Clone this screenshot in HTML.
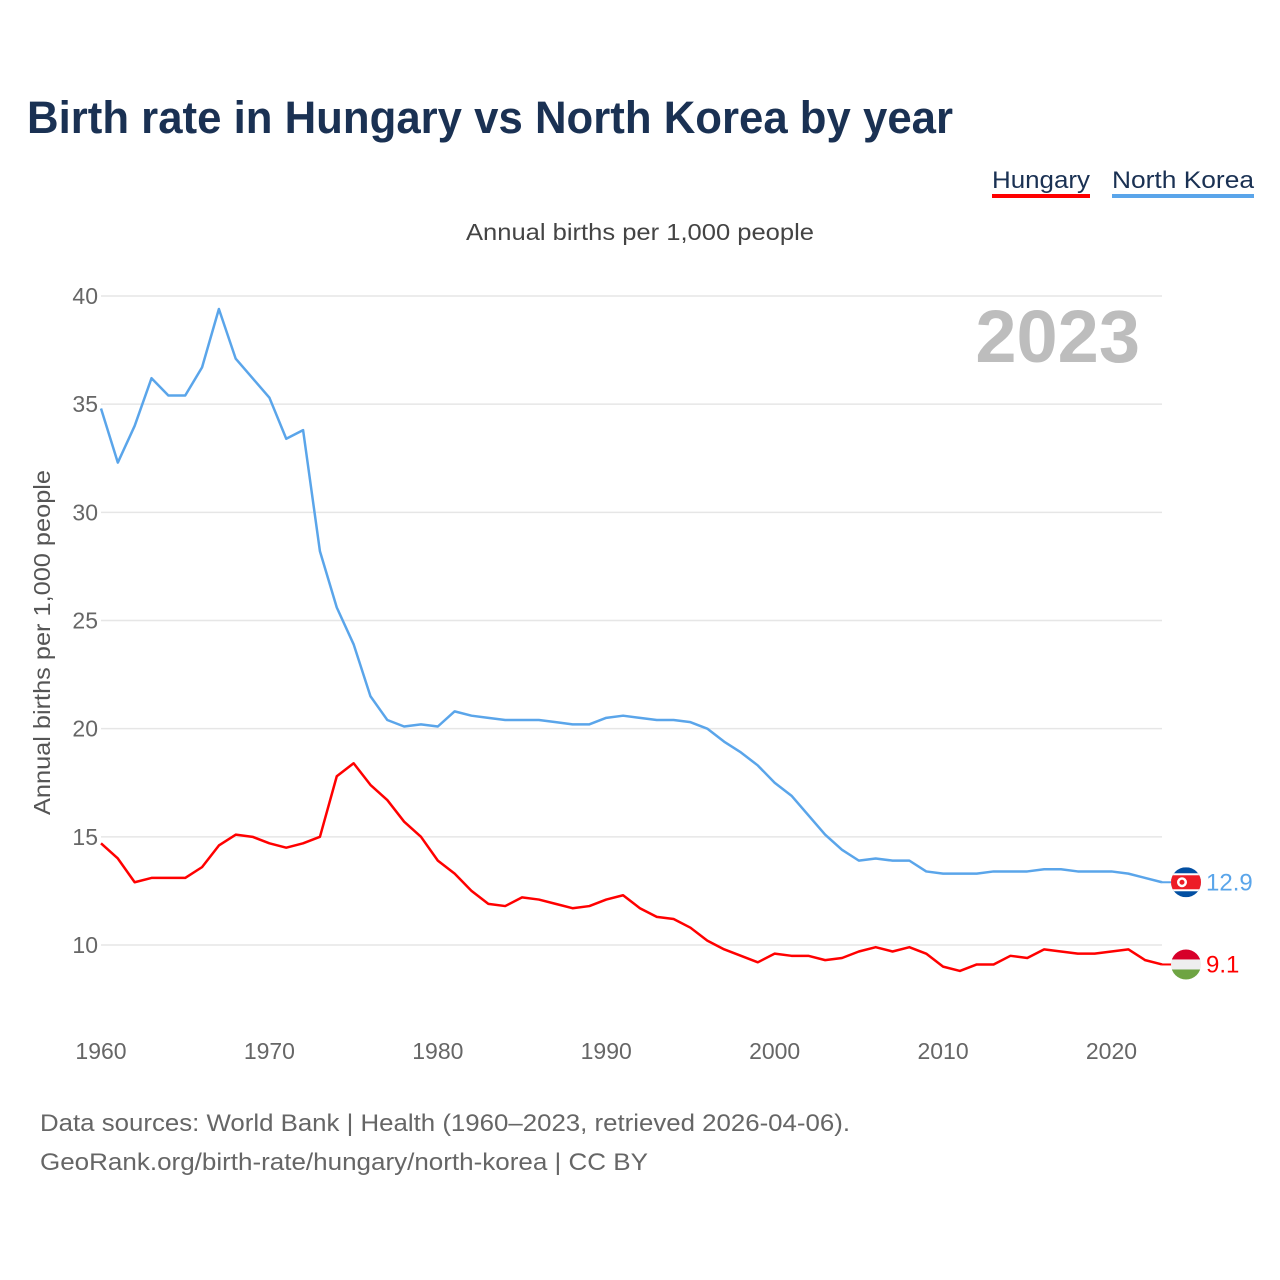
<!DOCTYPE html>
<html><head><meta charset="utf-8"><style>
body{margin:0;background:#fff;font-family:"Liberation Sans",sans-serif}
#wrap{position:relative;width:1280px;height:1280px;overflow:hidden}
</style></head><body>
<div id="wrap">
<svg id="chart" width="1280" height="1280">
<text x="27" y="133" font-size="45" font-weight="bold" fill="#1a3153" textLength="926" lengthAdjust="spacingAndGlyphs">Birth rate in Hungary vs North Korea by year</text>
<g><text x="992" y="188" font-size="24" fill="#1a3153" textLength="98" lengthAdjust="spacingAndGlyphs">Hungary</text><rect x="992" y="194" width="98" height="4" fill="#ff0000"/></g>
<g><text x="1112" y="188" font-size="24" fill="#1a3153" textLength="142" lengthAdjust="spacingAndGlyphs">North Korea</text><rect x="1112" y="194" width="142" height="4" fill="#5aa5ea"/></g>
<text x="466" y="240" font-size="23" fill="#444" textLength="348" lengthAdjust="spacingAndGlyphs">Annual births per 1,000 people</text>
<text x="1140" y="362" font-size="74" font-weight="bold" fill="#bdbdbd" text-anchor="end">2023</text>
<text transform="translate(50,815) rotate(-90)" font-size="23" fill="#555" textLength="345" lengthAdjust="spacingAndGlyphs">Annual births per 1,000 people</text>
<g id="grid"></g><g id="xt"></g><g id="lines"></g><g id="ends"></g>
<text x="40" y="1131" font-size="24" fill="#666" textLength="810" lengthAdjust="spacingAndGlyphs">Data sources: World Bank | Health (1960–2023, retrieved 2026-04-06).</text>
<text x="40" y="1170" font-size="24" fill="#666" textLength="608" lengthAdjust="spacingAndGlyphs">GeoRank.org/birth-rate/hungary/north-korea | CC BY</text>
</svg></div>
<script>
const years=[];for(let y=1960;y<=2023;y++)years.push(y);
const northKorea=[34.8,32.3,34.0,36.2,35.4,35.4,36.7,39.4,37.1,36.2,35.3,33.4,33.8,28.2,25.6,23.9,21.5,20.4,20.1,20.2,20.1,20.8,20.6,20.5,20.4,20.4,20.4,20.3,20.2,20.2,20.5,20.6,20.5,20.4,20.4,20.3,20.0,19.4,18.9,18.3,17.5,16.9,16.0,15.1,14.4,13.9,14.0,13.9,13.9,13.4,13.3,13.3,13.3,13.4,13.4,13.4,13.5,13.5,13.4,13.4,13.4,13.3,13.1,12.9];
const hungary=[14.7,14.0,12.9,13.1,13.1,13.1,13.6,14.6,15.1,15.0,14.7,14.5,14.7,15.0,17.8,18.4,17.4,16.7,15.7,15.0,13.9,13.3,12.5,11.9,11.8,12.2,12.1,11.9,11.7,11.8,12.1,12.3,11.7,11.3,11.2,10.8,10.2,9.8,9.5,9.2,9.6,9.5,9.5,9.3,9.4,9.7,9.9,9.7,9.9,9.6,9.0,8.8,9.1,9.1,9.5,9.4,9.8,9.7,9.6,9.6,9.7,9.8,9.3,9.1];
const yTicks=[10,15,20,25,30,35,40];
const xTicks=[1960,1970,1980,1990,2000,2010,2020];
const X=y=>101+(y-1960)*(1162-101)/63;
const Y=v=>296+(40-v)*(945-296)/30;
const NS='http://www.w3.org/2000/svg';
function mk(p,t,a){const e=document.createElementNS(NS,t);for(const k in a)e.setAttribute(k,a[k]);p.appendChild(e);return e;}
const grid=document.getElementById('grid');
yTicks.forEach(v=>{
 const l=mk(grid,'line',{x1:101,x2:1162,y1:Y(v),y2:Y(v),stroke:'#e6e6e6','stroke-width':1.5});
 
 
 const t=mk(grid,'text',{x:98,y:Y(v)+8,'font-size':23,fill:'#666','text-anchor':'end'});t.textContent=v;
 
 
});
const xt=document.getElementById('xt');
xTicks.forEach(y=>{
 const t=mk(xt,'text',{x:X(y),y:1059,'font-size':23,fill:'#666','text-anchor':'middle'});t.textContent=y;
 
 
});
const lines=document.getElementById('lines');
function series(vals,color,name){
 const p=mk(lines,'polyline',{points:vals.map((v,i)=>X(years[i])+','+Y(v)).join(' '),fill:'none',stroke:color,'stroke-width':2.5,'stroke-linejoin':'round'});
 
 
}
series(northKorea,'#5aa5ea','north-korea-line');
series(hungary,'#ff0000','hungary-line');
const ends=document.getElementById('ends');
function endLabel(vals,color,name,flag){
 const v=vals[vals.length-1],y=Y(v),x=X(2023);
 mk(ends,'line',{x1:x,x2:x+12,y1:y,y2:y,stroke:color,'stroke-width':2});
 const g=mk(ends,'g',{});
 
 
 const cx=x+24;
 const cp=mk(g,'clipPath',{id:'c'+name});mk(cp,'circle',{cx:cx,cy:y,r:15});
 const inner=mk(g,'g',{'clip-path':'url(#c'+name+')'});
 if(flag==='kp'){
  mk(inner,'rect',{x:cx-15,y:y-15,width:30,height:30,fill:'#024fa2'});
  mk(inner,'rect',{x:cx-15,y:y-9,width:30,height:18,fill:'#fff'});
  mk(inner,'rect',{x:cx-15,y:y-7,width:30,height:14,fill:'#ed1c27'});
  mk(inner,'circle',{cx:cx-4,cy:y,r:5,fill:'#fff'});
  mk(inner,'circle',{cx:cx-4,cy:y,r:2.5,fill:'#ed1c27'});
 }else{
  mk(inner,'rect',{x:cx-15,y:y-15,width:30,height:10,fill:'#d7002a'});
  mk(inner,'rect',{x:cx-15,y:y-5,width:30,height:10,fill:'#eee'});
  mk(inner,'rect',{x:cx-15,y:y+5,width:30,height:10,fill:'#6ea443'});
 }
 const t=mk(ends,'text',{x:x+44,y:y+8,'font-size':24,fill:color});t.textContent=v;
 
 
}
endLabel(northKorea,'#5aa5ea','north-korea','kp');
endLabel(hungary,'#ff0000','hungary','hu');
</script>
</body></html>
